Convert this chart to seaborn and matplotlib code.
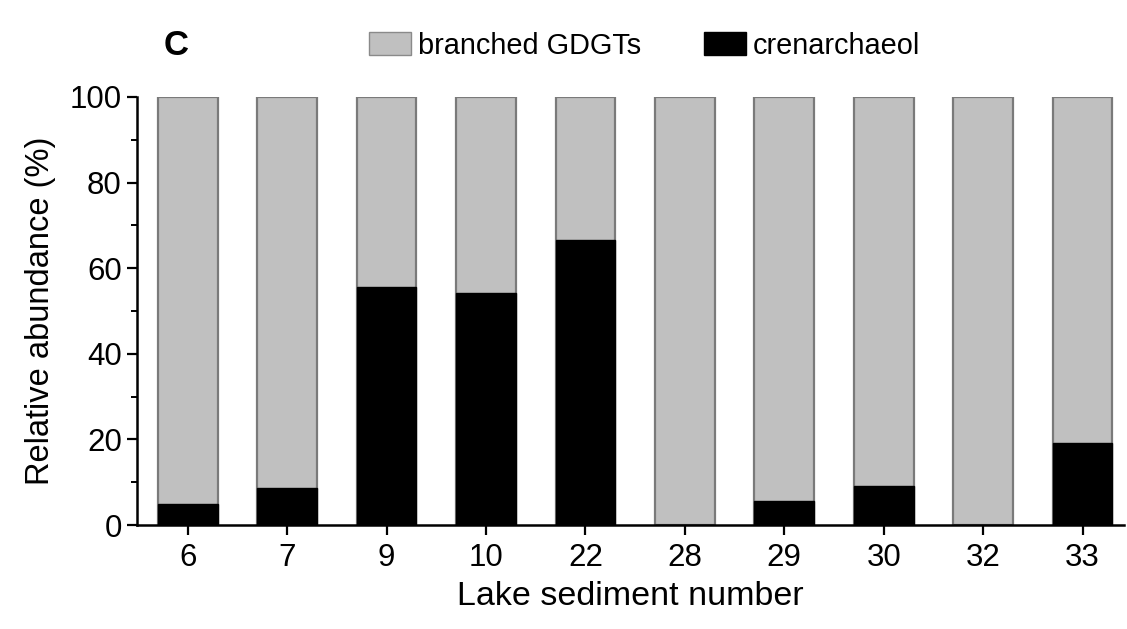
import matplotlib
matplotlib.use("Agg")
import matplotlib.pyplot as plt
from matplotlib.patches import Patch
from matplotlib.ticker import MultipleLocator
import numpy as np
import pandas as pd
import seaborn as sns

# Lake sediment samples and GDGT composition (%)
samples = ["6", "7", "9", "10", "22", "28", "29", "30", "32", "33"]
crenarchaeol = [4.9, 8.6, 55.6, 54.3, 66.5, 0.0, 5.7, 9.1, 0.0, 19.2]
branched = [95.1, 91.4, 44.4, 45.7, 33.5, 100.0, 94.3, 90.9, 100.0, 80.8]

sns.set_theme(style="ticks")
plt.rcParams["font.family"] = ["Liberation Sans", "DejaVu Sans"]
plt.rcParams.update({
    "text.color": "black",
    "axes.labelcolor": "black",
    "xtick.color": "black",
    "ytick.color": "black",
})

df = pd.DataFrame({
    "sample": samples,
    "cren": crenarchaeol,
    "total": np.array(crenarchaeol) + np.array(branched),
})

fig = plt.figure(figsize=(11.27, 6.29), dpi=100)
ax = fig.add_axes([0.1216, 0.1653, 0.876, 0.6805])

# stacked bars: full column in grey, crenarchaeol fraction in black at the base
sns.barplot(data=df, x="sample", y="total", order=samples, color="#c0c0c0",
            edgecolor="#7a7a7a", linewidth=1.6, width=0.6, saturation=1,
            ax=ax)
sns.barplot(data=df, x="sample", y="cren", order=samples, color="black",
            edgecolor="black", linewidth=1.0, width=0.6, saturation=1,
            ax=ax)

ax.set_xlim(-0.51, 9.42)
ax.set_ylim(0, 100)
ax.yaxis.set_major_locator(MultipleLocator(20))
ax.yaxis.set_minor_locator(MultipleLocator(10))

sns.despine(ax=ax)
for side in ("left", "bottom"):
    ax.spines[side].set_linewidth(1.8)
    ax.spines[side].set_color("black")

ax.tick_params(axis="both", which="major", direction="out", length=7,
               width=1.6, labelsize=22.5, color="black", labelcolor="black",
               pad=4)
ax.tick_params(axis="y", which="minor", direction="out", length=4,
               width=1.4, color="black")
ax.tick_params(axis="x", pad=6)

ax.set_xlabel("Lake sediment number", fontsize=24.5, labelpad=6,
              color="black")
ax.set_ylabel("Relative abundance (%)", fontsize=23.5, labelpad=10,
              color="black")

fig.text(0.145, 0.928, "C", fontsize=25, fontweight="bold",
         ha="left", va="center", color="black")

handles = [
    Patch(facecolor="#c0c0c0", edgecolor="#8a8a8a", linewidth=1.0,
          label="branched GDGTs"),
    Patch(facecolor="black", edgecolor="black", label="crenarchaeol"),
]
leg = fig.legend(handles=handles, loc="center", bbox_to_anchor=(0.572, 0.927),
                 ncol=2, frameon=False, fontsize=20.8, handlelength=1.45,
                 handleheight=0.85, handletextpad=0.22, columnspacing=2.2)
for t in leg.get_texts():
    t.set_color("black")

fig.savefig("out.png", dpi=100, facecolor="white")
